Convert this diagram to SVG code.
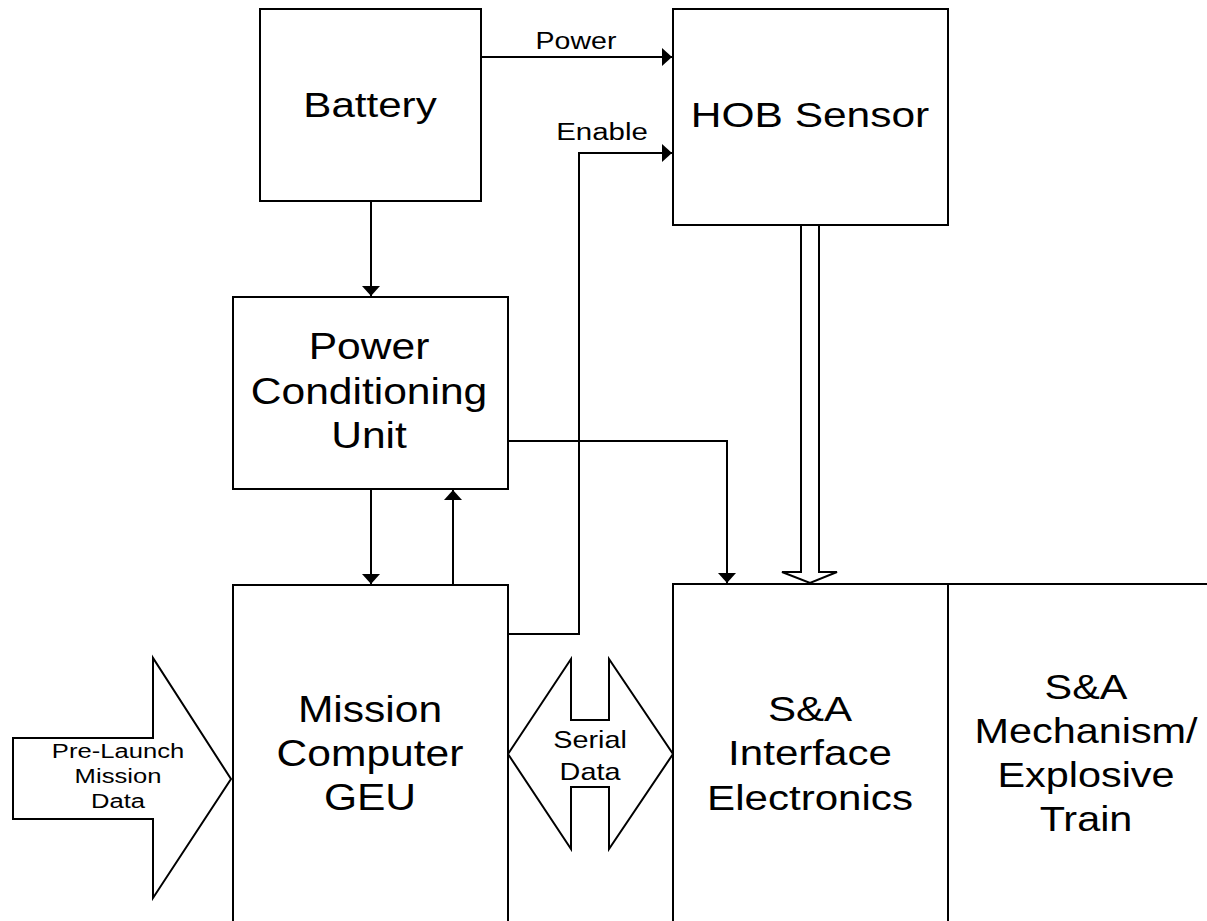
<svg xmlns="http://www.w3.org/2000/svg" width="1207" height="921" viewBox="0 0 1207 921">
<style>
.box{fill:#fff;stroke:#000;stroke-width:2}
.ln{fill:none;stroke:#000;stroke-width:2}
.sh{fill:#fff;stroke:#000;stroke-width:2;stroke-linejoin:miter}
text{font-family:"Liberation Sans",Arial,sans-serif;fill:#000;text-anchor:middle}
</style>
<defs>
<marker id="ah" viewBox="0 0 10 18" refX="10" refY="9" markerWidth="10" markerHeight="18" markerUnits="userSpaceOnUse" orient="auto">
<path d="M0,0 L10,9 L0,18 z" fill="#000"/>
</marker>
</defs>
<rect width="1207" height="921" fill="#fff"/>

<g id="connectors">
<path class="ln" d="M481,57 H672" marker-end="url(#ah)"/>
<path class="ln" d="M508,634 H579 V153 H672" marker-end="url(#ah)"/>
<path class="ln" d="M371,201 V296" marker-end="url(#ah)"/>
<path class="ln" d="M371,489 V584" marker-end="url(#ah)"/>
<path class="ln" d="M453,585 V490" marker-end="url(#ah)"/>
<path class="ln" d="M508,441 H727 V583" marker-end="url(#ah)"/>
<polygon id="hob-to-sa" class="sh" points="801,225 801,572 782,572 810,583 837,572 819,572 819,225"/>
</g>

<g id="battery">
<rect class="box" x="260" y="9" width="221" height="192"/>
<text font-size="36" transform="translate(370,0) scale(1.17,1)" x="0" y="117">Battery</text>
</g>

<g id="hob-sensor">
<rect class="box" x="673" y="9" width="275" height="216"/>
<text font-size="36" transform="translate(810,0) scale(1.18,1)" x="0" y="127">HOB Sensor</text>
</g>

<g id="power-conditioning-unit">
<rect class="box" x="233" y="297" width="275" height="192"/>
<text font-size="37" transform="translate(369,0) scale(1.15,1)" x="0" y="359">Power</text>
<text font-size="37" transform="translate(369,0) scale(1.15,1)" x="0" y="404">Conditioning</text>
<text font-size="37" transform="translate(369,0) scale(1.15,1)" x="0" y="448">Unit</text>
</g>

<g id="mission-computer">
<rect class="box" x="233" y="585" width="275" height="360"/>
<text font-size="37" transform="translate(370,0) scale(1.15,1)" x="0" y="722">Mission</text>
<text font-size="37" transform="translate(370,0) scale(1.15,1)" x="0" y="766">Computer</text>
<text font-size="37" transform="translate(370,0) scale(1.15,1)" x="0" y="810">GEU</text>
</g>

<g id="sa-interface">
<rect class="box" x="673" y="584" width="275" height="360"/>
<text font-size="36" transform="translate(810,0) scale(1.17,1)" x="0" y="721">S&amp;A</text>
<text font-size="36" transform="translate(810,0) scale(1.17,1)" x="0" y="765">Interface</text>
<text font-size="36" transform="translate(810,0) scale(1.17,1)" x="0" y="810">Electronics</text>
</g>

<g id="sa-mechanism">
<rect class="box" x="948" y="584" width="300" height="360"/>
<text font-size="36" transform="translate(1086,0) scale(1.15,1)" x="0" y="699">S&amp;A</text>
<text font-size="36" transform="translate(1086,0) scale(1.15,1)" x="0" y="743">Mechanism/</text>
<text font-size="36" transform="translate(1086,0) scale(1.15,1)" x="0" y="787">Explosive</text>
<text font-size="36" transform="translate(1086,0) scale(1.15,1)" x="0" y="831">Train</text>
</g>

<g id="serial-data">
<polygon class="sh" points="508,754 571,659 571,720 609,720 609,659 673,754 609,849 609,787 571,787 571,849"/>
<text font-size="24" transform="translate(590,0) scale(1.2,1)" x="0" y="748">Serial</text>
<text font-size="24" transform="translate(590,0) scale(1.2,1)" x="0" y="780">Data</text>
</g>

<g id="pre-launch">
<polygon class="sh" points="13,738 153,738 153,658 231,779 153,898 153,819 13,819"/>
<text font-size="20" transform="translate(118,0) scale(1.28,1)" x="0" y="758">Pre-Launch</text>
<text font-size="20" transform="translate(118,0) scale(1.28,1)" x="0" y="783">Mission</text>
<text font-size="20" transform="translate(118,0) scale(1.28,1)" x="0" y="808">Data</text>
</g>

<g id="labels">
<text font-size="23" transform="translate(576,0) scale(1.24,1)" x="0" y="49">Power</text>
<text font-size="23" transform="translate(602,0) scale(1.28,1)" x="0" y="140">Enable</text>
</g>
</svg>
